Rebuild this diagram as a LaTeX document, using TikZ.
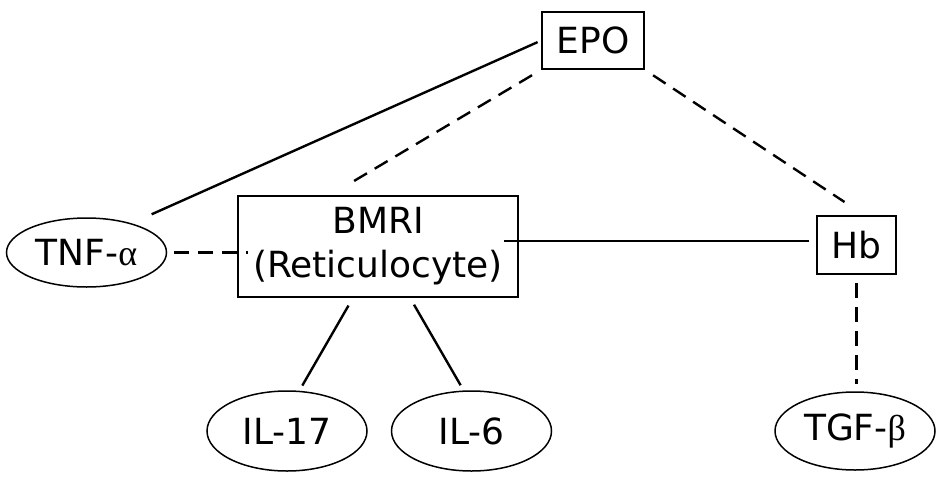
\documentclass[tikz,border=0pt]{standalone}
\usepackage{fontspec}
\setmainfont{DejaVu Sans}
\newfontfamily\greekfont{Liberation Serif}
\usetikzlibrary{shapes.geometric}

\begin{document}
\begin{tikzpicture}[x=1pt,y=-1pt,
  box/.style={draw,line width=1.5pt,inner sep=0pt,align=center,font=\fontsize{36}{44}\selectfont},
  oval/.style={draw,ellipse,line width=1.5pt,inner sep=0pt,minimum width=160pt,minimum height=80pt,font=\fontsize{36}{44}\selectfont},
  edge/.style={line width=2.4pt},
  dashedge/.style={line width=2.4pt,dash pattern=on 15pt off 9pt}]
\useasboundingbox (0,0) rectangle (942,482);

\node[box,minimum width=102pt,minimum height=57pt] (epo) at (593,40.5) {EPO};
\node[box,minimum width=280pt,minimum height=101pt] (bmri) at (378,246.5) {BMRI\\(Reticulocyte)};
\node[box,minimum width=79pt,minimum height=58pt] (hb) at (856.5,245) {Hb};

\node[oval,minimum height=69pt] (tnf) at (86.5,252.5) {TNF-{\greekfont α}};
\node[oval] (il17) at (287,431) {IL-17};
\node[oval] (il6) at (471.5,431) {IL-6};
\node[oval,minimum height=78pt] (tgf) at (855,431) {TGF-{\greekfont β}};

\draw[edge,shorten <=22pt,shorten >=4pt] (tnf.33) -- (epo.west);
\draw[dashedge,shorten <=7pt,shorten >=-11pt] (tnf.east) -- (tnf.east -| bmri.west);
\draw[dashedge,shorten <=28pt,shorten >=10pt] ([xshift=-48pt]bmri.north) -- (epo.south west);
\draw[dashedge,shorten <=10pt,shorten >=24pt] (epo.south east) -- ([xshift=8pt]hb.north);
\draw[edge,shorten <=7pt,shorten >=-15pt] ([yshift=4pt]hb.west) -- ([yshift=4pt]hb.west -| bmri.east);
\draw[dashedge,shorten <=8pt,shorten >=7pt] (hb.south) -- (hb.south |- tgf.north);

\draw[edge,shorten <=9pt,shorten >=6pt] ([xshift=-25pt]bmri.south) -- (il17.73);
\draw[edge,shorten <=8pt,shorten >=6pt] ([xshift=32pt]bmri.south) -- (il6.101);
\end{tikzpicture}
\end{document}
